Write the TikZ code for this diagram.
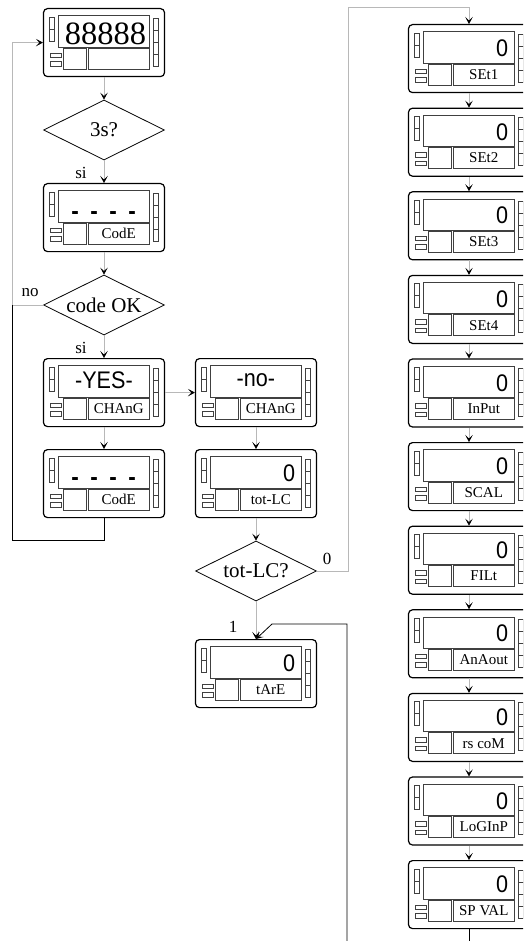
\documentclass[tikz,border=0pt]{standalone}
\usepackage{fontspec}
\setmainfont{Liberation Serif}
\newfontfamily\dispfont[FakeStretch=0.9]{Liberation Sans}
\usetikzlibrary{shapes.geometric,arrows.meta}
\tikzset{
  devbox/.style={draw=black, line width=1.2pt, rounded corners=4pt, minimum width=121pt, minimum height=68pt, inner sep=0pt, anchor=north},
  part/.style={draw=black!75, line width=0.7pt},
  dispC/.style={inner sep=0pt, anchor=center, font=\dispfont\fontsize{24}{24}\selectfont},
  dispR/.style={inner sep=0pt, anchor=east, font=\dispfont\fontsize{24}{24}\selectfont},
  dispD/.style={inner sep=0pt, anchor=base, font=\dispfont\bfseries\fontsize{25}{25}\selectfont},
  seg/.style={inner sep=0pt, anchor=center, font=\fontsize{32.5}{32.5}\selectfont},
  lab/.style={inner sep=0pt, font=\fontsize{15}{15}\selectfont},
  dec/.style={diamond, draw=black, line width=0.8pt, minimum width=121pt, minimum height=60pt, inner sep=0pt},
  dtext/.style={inner sep=0pt, font=\fontsize{21}{21}\selectfont},
  conn/.style={draw=black!28, line width=0.6pt},
  arr/.style={conn, -{Stealth[length=7pt,width=7.5pt,inset=3.5pt,black]}},
  ret/.style={draw=black, line width=0.8pt},
  retarr/.style={ret, -{Stealth[length=7pt,width=7.5pt,inset=3.5pt,black]}},
  elab/.style={inner sep=0pt, font=\fontsize{17}{17}\selectfont},
}
% name, x, y(top), display style, display position, display text, label
\newcommand\dev[7]{%
  \node[devbox] (#1) at (#2,#3) {};
  \begin{scope}[shift={(#1.north west)}]
    \draw[part] (15,7.7) rectangle (106.7,39);
    \draw[part] (20.7,40) rectangle (43,61);
    \draw[part] (45,40) rectangle (106.7,61);
    \draw[part] (6.7,9) rectangle (11.7,21);
    \draw[part] (6.7,21) rectangle (11.7,33);
    \draw[part] (7,45) rectangle (18,49.5);
    \draw[part] (7,53.5) rectangle (18,58);
    \foreach \i in {0,1,2,3} \draw[part] (110,10+12*\i) rectangle (115.7,22+12*\i);
    \node[#4] (#1-d) at (#5) {#6};
    \node[lab] (#1-l) at (75.85,50.5) {#7};
  \end{scope}}
\newcommand\dashes{-\hspace{11.5pt}-\hspace{11.5pt}-\hspace{11.5pt}-}
\begin{document}
\begin{tikzpicture}[x=1pt,y=-1pt]
\useasboundingbox (0,0) rectangle (523,941);
\clip (0,0) rectangle (523,941);
% left column
\dev{d1}{104}{8}{seg}{62.5,26}{88888}{}
\node[dec] (c1) at (104,130) {};
\node[dtext] (c1t) at (c1.center) {3s?};
\dev{d2}{104}{183}{dispD}{60.8,36.2}{\dashes}{CodE}
\node[dec] (c2) at (104,305) {};
\node[dtext] (c2t) at (c2.center) {code OK};
\dev{d3}{104}{358}{dispC}{61,22}{-YES-}{CHAnG}
\dev{d5}{104}{449}{dispD}{60.8,36.2}{\dashes}{CodE}
% middle column
\dev{d4}{256}{358}{dispC}{61,22}{-no-}{CHAnG}
\dev{d6}{256}{449}{dispR}{100.5,24.5}{0}{tot-LC}
\node[dec] (c3) at (256,571) {};
\node[dtext] (c3t) at (c3.center) {tot-LC?};
\dev{d7}{256}{639}{dispR}{100.5,24.5}{0}{tArE}
% right column
\foreach \n/\t [count=\k from 0] in {s1/SEt1,s2/SEt2,s3/SEt3,s4/SEt4,s5/InPut,s6/SCAL,s7/FILt,s8/AnAout,s9/rs coM,s10/LoGInP,s11/SP VAL}{
  \dev{\n}{469}{24+83.6*\k}{dispR}{100.5,24.5}{0}{\t}
}
% coordinates
\coordinate (k1) at (348,7);
\coordinate (k2) at (12,305);
\coordinate (k3) at (12,540);
\coordinate (k4) at (469,941);
\coordinate (k5) at (347,941);
\coordinate (k6) at (347,624);
\coordinate (k7) at (272,624);
% connectors
\draw[arr] (d1.south) -- (c1.north);
\draw[arr] (c1.south) -- (d2.north);
\draw[arr] (d2.south) -- (c2.north);
\draw[arr] (c2.south) -- (d3.north);
\draw[arr] (d3.east) -- (d4.west);
\draw[arr] (d3.south) -- (d5.north);
\draw[arr] (d4.south) -- (d6.north);
\draw[arr] (d6.south) -- (c3.north);
\draw[arr] (c3.south) -- (d7.north);
\draw[arr] (c3.east) -| (k1) -| (s1.north);
\draw[arr] (c2.west) -- (k2) |- (d1.west);
\draw[ret] (d5.south) |- (k3) -- (k2);
\foreach \a/\b in {s1/s2,s2/s3,s3/s4,s4/s5,s5/s6,s6/s7,s7/s8,s8/s9,s9/s10,s10/s11}
  \draw[arr] (\a.south) -- (\b.north);
\draw[ret] (s11.south) -- (k4);
\draw[retarr] (k5) -- (k6) -- (k7) -- (d7.north);
% edge labels
\node[elab] (l1) at (81,173) {si};
\node[elab] (l2) at (81,348) {si};
\node[elab] (l3) at (30,293) {no};
\node[elab] (l4) at (327,559) {0};
\node[elab] (l5) at (233,627) {1};
\end{tikzpicture}
\end{document}
